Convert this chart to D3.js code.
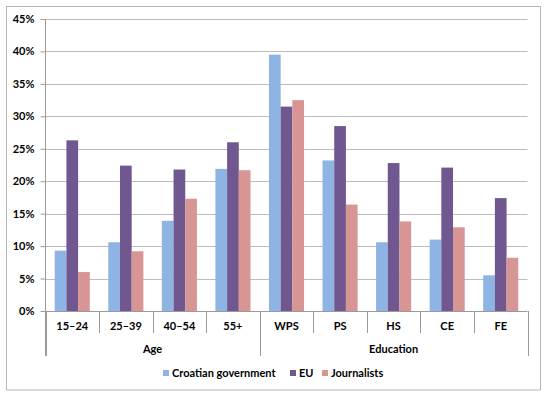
<!DOCTYPE html>
<html>
<head>
<meta charset="utf-8">
<script src="https://cdn.jsdelivr.net/npm/d3@7"></script>
<style>
  body { margin: 0; background: #fff; }
  text { font-family: Lato, "Liberation Sans", sans-serif; font-weight: bold; fill: #000; }
</style>
</head>
<body>
<svg id="chart" width="550" height="396"></svg>
<script>
// chart values
const categories = ["15–24", "25–39", "40–54", "55+", "WPS", "PS", "HS", "CE", "FE"];
const groups = [
  {name: "Age", size: 4},
  {name: "Education", size: 5}
];
const series = ["Croatian government", "EU", "Journalists"];
const croatianGov = [9.3, 10.6, 13.9, 21.9, 39.5, 23.2, 10.6, 11.0, 5.5];
const eu = [26.3, 22.4, 21.8, 26.0, 31.5, 28.5, 22.8, 22.1, 17.4];
const journalists = [6.0, 9.2, 17.3, 21.7, 32.5, 16.4, 13.8, 12.9, 8.2];
const yTicks = [0, 5, 10, 15, 20, 25, 30, 35, 40, 45];
const colors = ["#8eb4e3", "#71578f", "#d79593"];

const values = [croatianGov, eu, journalists];
const svg = d3.select("#chart");

// outer frame
svg.append("rect")
  .attr("x", 6.5).attr("y", 6.5)
  .attr("width", 534).attr("height", 383.5)
  .attr("fill", "#fff")
  .attr("stroke", "#b5b5b5");

const plotLeft = 45.5, plotRight = 527.5, plotTop = 19, plotBottom = 311;

const x = d3.scaleBand().domain(categories).range([plotLeft, plotRight]);
const xs = d3.scaleBand().domain(series).range([0, x.bandwidth()]).paddingInner(0).paddingOuter(0.79);
const y = d3.scaleLinear().domain([0, 45]).range([plotBottom, plotTop]);

// gridlines
svg.append("g")
  .selectAll("line")
  .data(yTicks.filter(d => d > 0))
  .join("line")
  .attr("x1", plotLeft).attr("x2", plotRight)
  .attr("y1", d => Math.round(y(d)) + 0.5)
  .attr("y2", d => Math.round(y(d)) + 0.5)
  .attr("stroke", "#bdbdbd");

// bars
const data = [];
categories.forEach((c, i) => {
  series.forEach((s, j) => data.push({cat: c, series: s, value: values[j][i], color: colors[j]}));
});
svg.append("g")
  .selectAll("rect")
  .data(data)
  .join("rect")
  .attr("x", d => x(d.cat) + xs(d.series))
  .attr("y", d => y(d.value))
  .attr("width", xs.bandwidth())
  .attr("height", d => y(0) - y(d.value))
  .attr("fill", d => d.color);

// y axis
const yAxis = svg.append("g")
  .attr("transform", "translate(" + plotLeft + ",0)")
  .call(d3.axisLeft(y).tickValues(yTicks).tickSize(5).tickPadding(6).tickFormat(d => d + "%"));
yAxis.select(".domain").remove();
yAxis.selectAll(".tick line").attr("stroke", "#9a9a9a");
yAxis.selectAll("text").style("font-size", "11px").attr("fill", "#000");

const axisColor = "#9a9a9a";
// vertical axis line (runs down through the category rows)
svg.append("line")
  .attr("x1", plotLeft).attr("x2", plotLeft)
  .attr("y1", plotTop).attr("y2", 356)
  .attr("stroke", axisColor);
// baseline
svg.append("line")
  .attr("x1", plotLeft).attr("x2", plotRight)
  .attr("y1", plotBottom + 0.5).attr("y2", plotBottom + 0.5)
  .attr("stroke", axisColor);

// category separators and labels
const groupEdges = [];
let k = 0;
groups.forEach(g => { groupEdges.push(k); k += g.size; });
groupEdges.push(k);

categories.forEach((c, i) => {
  if (i > 0 && !groupEdges.includes(i)) {
    svg.append("line")
      .attr("x1", Math.round(x(c)) + 0.5).attr("x2", Math.round(x(c)) + 0.5)
      .attr("y1", plotBottom).attr("y2", 333)
      .attr("stroke", axisColor);
  }
});
groupEdges.forEach(i => {
  const xe = i < categories.length ? x(categories[i]) : plotRight;
  svg.append("line")
    .attr("x1", Math.round(xe) + 0.5).attr("x2", Math.round(xe) + 0.5)
    .attr("y1", plotBottom).attr("y2", 356)
    .attr("stroke", axisColor);
});

svg.append("g")
  .selectAll("text")
  .data(categories)
  .join("text")
  .attr("x", d => x(d) + x.bandwidth() / 2)
  .attr("y", 330)
  .attr("text-anchor", "middle")
  .style("font-size", "11px")
  .text(d => d);

svg.append("g")
  .selectAll("text")
  .data(groups)
  .join("text")
  .attr("x", (d, i) => {
    const a = x(categories[groupEdges[i]]);
    const b = groupEdges[i + 1] < categories.length ? x(categories[groupEdges[i + 1]]) : plotRight;
    return (a + b) / 2;
  })
  .attr("y", 353)
  .attr("text-anchor", "middle")
  .style("font-size", "11px")
  .text(d => d.name);

// legend
const legendX = [163, 290, 322];
const legend = svg.append("g")
  .selectAll("g")
  .data(series)
  .join("g")
  .attr("transform", (d, i) => "translate(" + legendX[i] + ",370)");
legend.append("rect")
  .attr("width", 6).attr("height", 6)
  .attr("fill", (d, i) => colors[i]);
legend.append("text")
  .attr("x", 9).attr("y", 7)
  .style("font-size", "11px")
  .text(d => d);
</script>
</body>
</html>
